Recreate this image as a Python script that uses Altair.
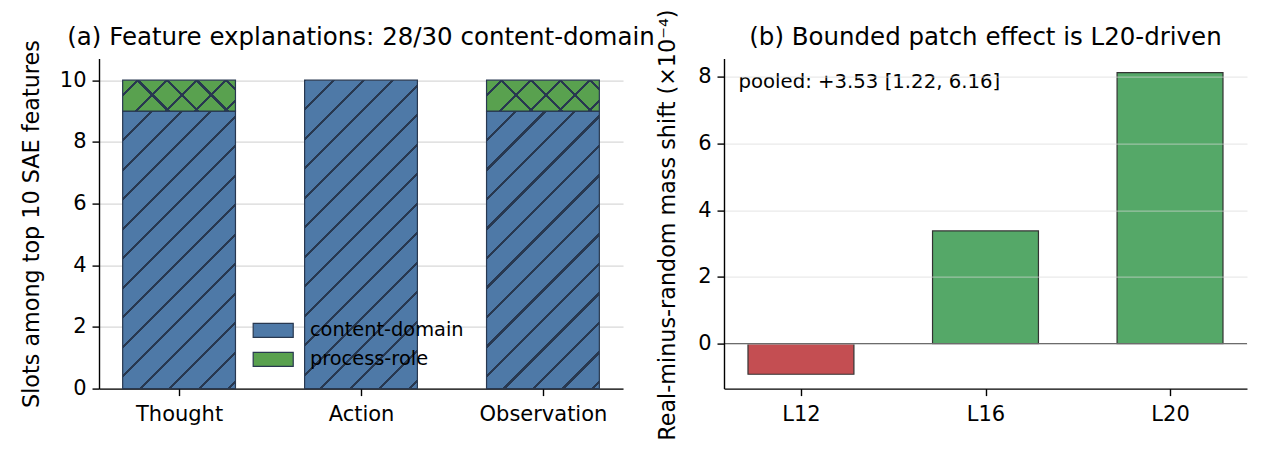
import json

import altair as alt
import pandas as pd

# panel (a): how the top-10 SAE feature slots split per step type
STEPS = ["Thought", "Action", "Observation"]
CONTENT_DOMAIN = [9, 10, 9]
PROCESS_ROLE = [1, 0, 1]
KINDS = ["content-domain", "process-role"]

# panel (b): real-minus-random mass shift per patched layer (x1e-4)
LAYERS = ["L12", "L16", "L20"]
MASS_SHIFT = [-0.92, 3.38, 8.13]
POOLED = "pooled: +3.53 [1.22, 6.16]"

TITLE_A = "(a) Feature explanations: 28/30 content-domain"
TITLE_B = "(b) Bounded patch effect is L20-driven"
YTITLE_A = "Slots among top 10 SAE features"
YTITLE_B = "Real-minus-random mass shift (×10⁻⁴)"

FONT = "DejaVu Sans"
BLUE = "#4E79A7"
GREEN_A = "#59A14F"
HATCH = "#283850"
GREEN_B = "#55A868"
RED_B = "#C44E52"
EDGE_B = "#333333"

# sizes of the two plot areas
W_A, W_B, H = 524, 523, 330
XDOM_A, YDOM_A, HALF_A = [-0.44, 2.44], [0, 10.7], 0.31
XDOM_B, YDOM_B, HALF_B = [-0.417, 2.417], [-1.35, 8.55], 0.287
HATCH_STEP = 29.5


def hatch(w, h, direction, phase, bg="rgba(0,0,0,0)", lw=1.6):
    """Striped linear gradient that looks like a matplotlib hatch on a w x h rect."""
    total = w + h
    stops = [{"offset": 0, "color": bg}]
    c = phase
    while c - lw < total:
        t0 = min(max((c - lw) / total, 0), 1)
        t1 = min(max((c + lw) / total, 0), 1)
        stops += [
            {"offset": t0, "color": bg},
            {"offset": t0, "color": HATCH},
            {"offset": t1, "color": HATCH},
            {"offset": t1, "color": bg},
        ]
        c += HATCH_STEP
    stops.append({"offset": 1, "color": bg})
    # bounding-box units skew the gradient, so scale the vector by the rect's sides
    k = total / (w * w + h * h)
    if direction == "/":
        x1, y1, x2, y2 = 0, 0, k * w, k * h
    else:
        x1, y1, x2, y2 = 0, 1, k * w, 1 - k * h
    return {"gradient": "linear", "x1": x1, "y1": y1, "x2": x2, "y2": y2, "stops": stops}


# ---- panel (a) data
rows = []
for i, step in enumerate(STEPS):
    lo = 0
    for kind, val in zip(KINDS, [CONTENT_DOMAIN[i], PROCESS_ROLE[i]]):
        if val > 0:
            rows.append({"step": step, "pos": i, "kind": kind, "lo": lo, "hi": lo + val,
                         "size": val, "x_lo": i - HALF_A, "x_hi": i + HALF_A})
        lo += val
df_a = pd.DataFrame(rows)

px_x_a = W_A / (XDOM_A[1] - XDOM_A[0])
px_y_a = H / (YDOM_A[1] - YDOM_A[0])
bar_w_a = 2 * HALF_A * px_x_a

base_a = alt.Chart(df_a)
bars_a = base_a.mark_rect(stroke=HATCH, strokeWidth=1.2).encode(
    x=alt.X("x_lo:Q", scale=alt.Scale(domain=XDOM_A, nice=False, zero=False),
            axis=alt.Axis(values=[0, 1, 2], title=None, grid=False,
                          labelExpr=json.dumps(STEPS) + "[datum.value]")),
    x2="x_hi:Q",
    y=alt.Y("lo:Q", scale=alt.Scale(domain=YDOM_A, nice=False),
            axis=alt.Axis(values=[0, 2, 4, 6, 8, 10], title=YTITLE_A, grid=True)),
    y2="hi:Q",
    color=alt.Color("kind:N", scale=alt.Scale(domain=KINDS, range=[BLUE, GREEN_A]),
                    legend=alt.Legend(title=None, orient="none", legendX=164.5, legendY=262,
                                      symbolType="M-2.86,-1L2.86,-1L2.86,1L-2.86,1Z",
                                      symbolSize=196, symbolStrokeColor=HATCH,
                                      symbolStrokeWidth=1.2, symbolOpacity=1,
                                      labelFont=FONT, labelFontSize=19.4, labelColor="black",
                                      labelOffset=27, rowPadding=8, padding=0)),
)

layers_a = [bars_a]
for kind in KINDS:
    for size in sorted(df_a.loc[df_a["kind"] == kind, "size"].unique()):
        h = size * px_y_a
        if kind == "content-domain":
            fills = [hatch(bar_w_a, h, "/", 0)]
        else:
            fills = [hatch(bar_w_a, h, "/", 15), hatch(bar_w_a, h, "\\", 15 + h)]
        for fill in fills:
            layers_a.append(
                base_a.transform_filter(
                    (alt.datum.kind == kind) & (alt.datum.size == int(size))
                ).mark_rect(fill=fill, strokeWidth=0).encode(
                    x="x_lo:Q", x2="x_hi:Q", y="lo:Q", y2="hi:Q"
                )
            )

panel_a = alt.layer(*layers_a).properties(
    width=W_A, height=H,
    title=alt.TitleParams(TITLE_A, offset=-11),
)

# ---- panel (b) data
df_b = pd.DataFrame({"layer": LAYERS, "pos": range(len(LAYERS)), "value": MASS_SHIFT})
df_b["zero"] = 0.0
df_b["x_lo"] = df_b["pos"] - HALF_B
df_b["x_hi"] = df_b["pos"] + HALF_B
df_b["sign"] = ["negative" if v < 0 else "positive" for v in MASS_SHIFT]

bars_b = alt.Chart(df_b).mark_rect(stroke=EDGE_B, strokeWidth=1.2).encode(
    x=alt.X("x_lo:Q", scale=alt.Scale(domain=XDOM_B, nice=False, zero=False),
            axis=alt.Axis(values=[0, 1, 2], title=None, grid=False,
                          labelExpr=json.dumps(LAYERS) + "[datum.value]")),
    x2="x_hi:Q",
    y=alt.Y("zero:Q", scale=alt.Scale(domain=YDOM_B, nice=False),
            axis=alt.Axis(values=[0, 2, 4, 6, 8], title=YTITLE_B, grid=True, zindex=1,
                          gridOpacity=0.55, titleY=H / 2 + 1, titlePadding=18.5)),
    y2="value:Q",
    color=alt.Color("sign:N", scale=alt.Scale(domain=["negative", "positive"],
                                              range=[RED_B, GREEN_B]), legend=None),
)

zero_b = alt.Chart(pd.DataFrame({"zero": [0.0]})).mark_rule(
    color="#444444", strokeWidth=1.2
).encode(y="zero:Q")

note_b = alt.Chart(pd.DataFrame({"label": [POOLED]})).mark_text(
    align="left", baseline="middle", font=FONT, fontSize=19.7, color="black"
).encode(x=alt.value(14.5), y=alt.value(23), text="label:N")

panel_b = alt.layer(bars_b, zero_b, note_b).properties(
    width=W_B, height=H,
    title=alt.TitleParams(TITLE_B, offset=-41.4),
)

chart = alt.hconcat(panel_a, panel_b, spacing=101, bounds="flush").resolve_scale(
    color="independent"
).properties(
    padding={"left": 12, "top": 0.6, "right": 5, "bottom": 5}
).configure_view(
    stroke=None
).configure_axis(
    labelFont=FONT, labelFontSize=21, labelColor="black", labelPadding=6,
    titleFont=FONT, titleFontSize=22.3, titleFontWeight="normal", titleColor="black",
    titlePadding=15.5,
    domainColor="black", domainWidth=1.4, tickColor="black", tickWidth=1.4, tickSize=7,
    gridColor="#d8d8d8", gridWidth=1.2,
).configure_axisX(
    labelPadding=8,
).configure_title(
    font=FONT, fontSize=24.5, fontWeight="normal", color="black", anchor="middle",
)

chart.save("out.html", embed_options={"renderer": "svg", "actions": False})
